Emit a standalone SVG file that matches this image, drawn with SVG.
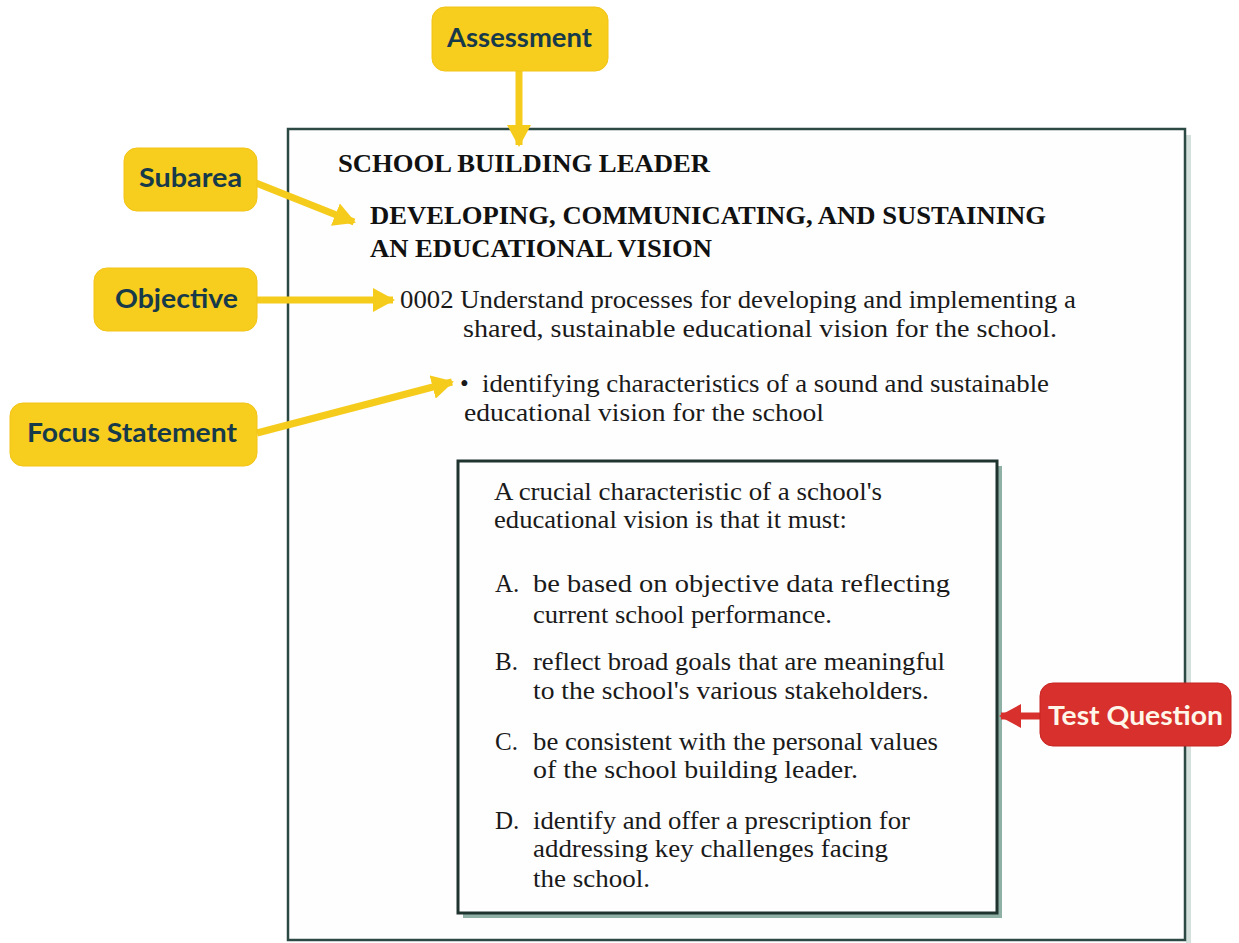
<svg xmlns="http://www.w3.org/2000/svg" width="1239" height="943" viewBox="0 0 1239 943">
<style>
.lbl{font-family:"Lato","Open Sans","Liberation Sans",sans-serif;font-weight:bold;font-size:26px;fill:#173a4a}
.ybox{fill:#f7cd1e;stroke:#f2c416;stroke-width:1}
.rbox{fill:#d8302c;stroke:#c82522;stroke-width:1}
.rlbl{font-family:"Lato","Open Sans","Liberation Sans",sans-serif;font-weight:bold;font-size:27px;fill:#fff6ea}
.hd{font-family:"Liberation Serif","Times New Roman",serif;font-weight:bold;font-size:25px;fill:#111}
.tx{font-family:"Liberation Serif","Times New Roman",serif;font-size:25px;fill:#1a1a1a}
.ya{stroke:#f5cb1c;stroke-width:7;fill:none}
.ra{stroke:#d8302c;stroke-width:7;fill:none}
</style>
<defs>
<marker id="ay" markerUnits="userSpaceOnUse" markerWidth="22" markerHeight="24" refX="20" refY="12" orient="auto">
<path d="M0,0 L22,12 L0,24 Z" fill="#f5cb1c"/>
</marker>
<marker id="ar" markerUnits="userSpaceOnUse" markerWidth="22" markerHeight="24" refX="20" refY="12" orient="auto">
<path d="M0,0 L22,12 L0,24 Z" fill="#d8302c"/>
</marker>
</defs>
<rect width="1239" height="943" fill="#ffffff"/>

<g id="outer">
<rect x="1186" y="135" width="5" height="808" fill="#d3e0db"/>
<rect x="288" y="129" width="897" height="811" fill="#fefefe" stroke="#2c4944" stroke-width="2.5"/>
<text class="hd" x="338" y="172" textLength="372" lengthAdjust="spacingAndGlyphs">SCHOOL BUILDING LEADER</text>
<text class="hd" x="370" y="224" textLength="676" lengthAdjust="spacingAndGlyphs">DEVELOPING, COMMUNICATING, AND SUSTAINING</text>
<text class="hd" x="370" y="257" textLength="342" lengthAdjust="spacingAndGlyphs">AN EDUCATIONAL VISION</text>
<text class="tx" x="400" y="308" textLength="676" lengthAdjust="spacingAndGlyphs">0002 Understand processes for developing and implementing a</text>
<text class="tx" x="463" y="337" textLength="594" lengthAdjust="spacingAndGlyphs">shared, sustainable educational vision for the school.</text>
<text class="tx" x="460" y="392">•</text>
<text class="tx" x="482" y="392" textLength="567" lengthAdjust="spacingAndGlyphs">identifying characteristics of a sound and sustainable</text>
<text class="tx" x="464" y="421" textLength="360" lengthAdjust="spacingAndGlyphs">educational vision for the school</text>
</g>

<g id="question">
<rect x="463" y="466" width="539" height="452" fill="#8fb0a5"/>
<rect x="458" y="461" width="539" height="452" fill="#fefefe" stroke="#1f332f" stroke-width="3"/>
<text class="tx" x="494" y="500" textLength="388" lengthAdjust="spacingAndGlyphs">A crucial characteristic of a school's</text>
<text class="tx" x="494" y="528" textLength="353" lengthAdjust="spacingAndGlyphs">educational vision is that it must:</text>
<text class="tx" x="495" y="592">A.</text>
<text class="tx" x="533" y="592" textLength="417" lengthAdjust="spacingAndGlyphs">be based on objective data reflecting</text>
<text class="tx" x="533" y="623" textLength="299" lengthAdjust="spacingAndGlyphs">current school performance.</text>
<text class="tx" x="495" y="670">B.</text>
<text class="tx" x="533" y="670" textLength="412" lengthAdjust="spacingAndGlyphs">reflect broad goals that are meaningful</text>
<text class="tx" x="533" y="699" textLength="396" lengthAdjust="spacingAndGlyphs">to the school's various stakeholders.</text>
<text class="tx" x="495" y="750">C.</text>
<text class="tx" x="533" y="750" textLength="405" lengthAdjust="spacingAndGlyphs">be consistent with the personal values</text>
<text class="tx" x="533" y="778" textLength="325" lengthAdjust="spacingAndGlyphs">of the school building leader.</text>
<text class="tx" x="495" y="829">D.</text>
<text class="tx" x="533" y="829" textLength="377" lengthAdjust="spacingAndGlyphs">identify and offer a prescription for</text>
<text class="tx" x="533" y="857" textLength="355" lengthAdjust="spacingAndGlyphs">addressing key challenges facing</text>
<text class="tx" x="533" y="887" textLength="117" lengthAdjust="spacingAndGlyphs">the school.</text>
</g>

<g id="connectors">
<line class="ya" x1="519" y1="70" x2="519" y2="145" marker-end="url(#ay)"/>
<line class="ya" x1="256" y1="183" x2="354" y2="222" marker-end="url(#ay)"/>
<line class="ya" x1="257" y1="300" x2="393" y2="300" marker-end="url(#ay)"/>
<line class="ya" x1="257" y1="433" x2="452" y2="382" marker-end="url(#ay)"/>
<line class="ra" x1="1041" y1="716" x2="1001" y2="716" marker-end="url(#ar)"/>
</g>

<g id="assessment">
<rect class="ybox" x="432" y="7" width="176" height="64" rx="13"/>
<text class="lbl" x="447" y="47" textLength="145" lengthAdjust="spacingAndGlyphs">Assessment</text>
</g>
<g id="subarea">
<rect class="ybox" x="124" y="148" width="133" height="63" rx="13"/>
<text class="lbl" x="139" y="187" textLength="103" lengthAdjust="spacingAndGlyphs">Subarea</text>
</g>
<g id="objective">
<rect class="ybox" x="94" y="268" width="163" height="63" rx="13"/>
<text class="lbl" x="115" y="308" textLength="123" lengthAdjust="spacingAndGlyphs">Objective</text>
</g>
<g id="focus">
<rect class="ybox" x="10" y="403" width="247" height="63" rx="13"/>
<text class="lbl" x="27" y="442" textLength="210" lengthAdjust="spacingAndGlyphs">Focus Statement</text>
</g>
<g id="testquestion">
<rect class="rbox" x="1040" y="683" width="191" height="63" rx="13"/>
<text class="rlbl" x="1048" y="725" textLength="175" lengthAdjust="spacingAndGlyphs">Test Question</text>
</g>
</svg>
